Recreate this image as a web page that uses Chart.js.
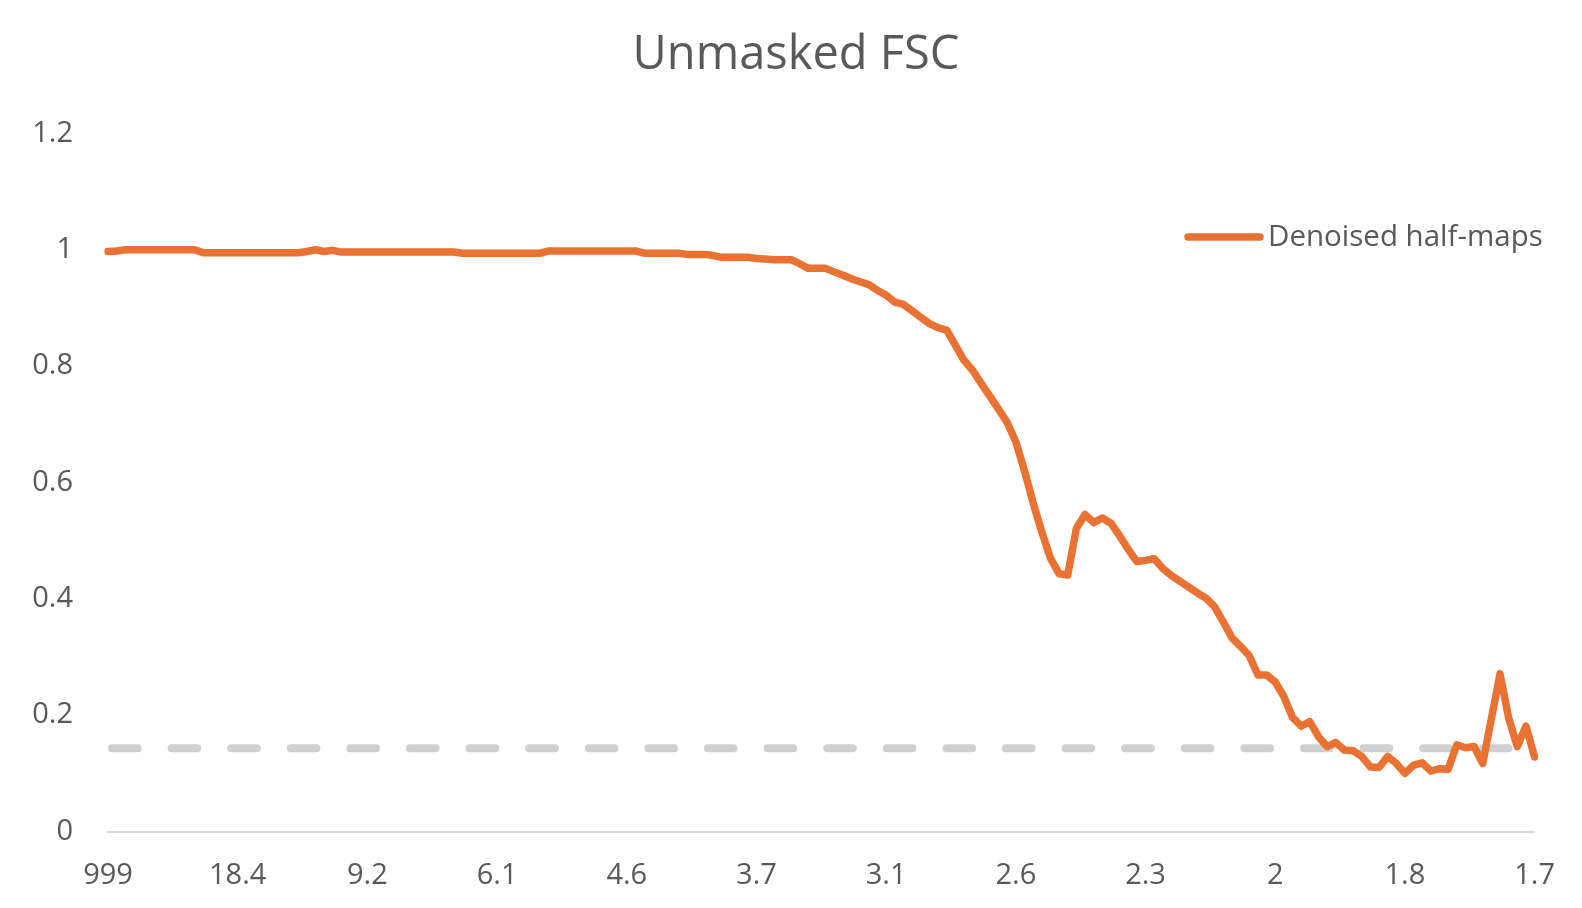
<!DOCTYPE html>
<html>
<head>
<meta charset="utf-8">
<title>Unmasked FSC</title>
<script src="https://cdn.jsdelivr.net/npm/chart.js@4.4.1/dist/chart.umd.min.js"></script>
<style>
  body { margin: 0; background: #fff; }
  #wrap { width: 1582px; height: 908px; }
</style>
</head>
<body>
<div id="wrap"><canvas id="fsc-chart"></canvas></div>
<script>
// tick labels (resolution, A) shown every 15th shell
const tickLabels = ["999", "18.4", "9.2", "6.1", "4.6", "3.7", "3.1", "2.6", "2.3", "2", "1.8", "1.7"];
const labelEvery = 15;

// FSC of the denoised half-maps, one value per shell
const fsc = [
  0.997, 0.998, 1, 1, 1, 1, 1, 1, 1, 1,
  1, 0.995, 0.995, 0.995, 0.995, 0.995, 0.995, 0.995, 0.995, 0.995,
  0.995, 0.995, 0.995, 0.997, 1, 0.997, 0.999, 0.996, 0.996, 0.996,
  0.996, 0.996, 0.996, 0.996, 0.996, 0.996, 0.996, 0.996, 0.996, 0.996,
  0.996, 0.994, 0.994, 0.994, 0.994, 0.994, 0.994, 0.994, 0.994, 0.994,
  0.994, 0.998, 0.998, 0.998, 0.998, 0.998, 0.998, 0.998, 0.998, 0.998,
  0.998, 0.998, 0.994, 0.994, 0.994, 0.994, 0.994, 0.992, 0.992, 0.992,
  0.99, 0.987, 0.987, 0.987, 0.987, 0.985, 0.984, 0.983, 0.983, 0.983,
  0.976, 0.968, 0.968, 0.968, 0.962, 0.956, 0.95, 0.945, 0.94, 0.93,
  0.922, 0.91, 0.906, 0.895, 0.884, 0.873, 0.866, 0.862, 0.836, 0.81,
  0.793, 0.77, 0.748, 0.726, 0.703, 0.67, 0.62, 0.565, 0.515, 0.47,
  0.443, 0.441, 0.521, 0.545, 0.531, 0.539, 0.53, 0.508, 0.485, 0.464,
  0.466, 0.469, 0.452, 0.44, 0.43, 0.42, 0.41, 0.401, 0.386, 0.36,
  0.333, 0.318, 0.302, 0.269, 0.269, 0.257, 0.232, 0.196, 0.181, 0.189,
  0.163, 0.146, 0.153, 0.14, 0.139, 0.129, 0.111, 0.11, 0.129, 0.117,
  0.1, 0.114, 0.118, 0.104, 0.108, 0.107, 0.149, 0.144, 0.146, 0.117,
  0.194, 0.271, 0.195, 0.146, 0.181, 0.128
];

const threshold = 0.143;

const fontFamily = "'Open Sans', 'Liberation Sans', sans-serif";
const textColor = "#595959";
const orange = "#E97132";

const labels = fsc.map((_, i) => (i % labelEvery === 0 ? tickLabels[i / labelEvery] : ""));

// grey dashed 0.143 line, drawn under the curve
const thresholdLine = {
  id: "thresholdLine",
  beforeDatasetsDraw(chart) {
    const { ctx, scales } = chart;
    const py = scales.y.getPixelForValue(threshold);
    ctx.save();
    ctx.strokeStyle = "#D0D0D0";
    ctx.lineWidth = 8;
    ctx.lineCap = "round";
    ctx.setLineDash([25.6, 34]);
    ctx.lineDashOffset = -4;
    ctx.beginPath();
    ctx.moveTo(scales.x.getPixelForValue(0), py);
    ctx.lineTo(scales.x.getPixelForValue(fsc.length - 1), py);
    ctx.stroke();
    ctx.restore();
  },
};

// legend sitting inside the plot, top right
const insideLegend = {
  id: "insideLegend",
  afterDraw(chart) {
    const { ctx } = chart;
    const ds = chart.data.datasets[0];
    const y = 237;
    ctx.save();
    ctx.strokeStyle = ds.borderColor;
    ctx.lineWidth = 7.5;
    ctx.lineCap = "round";
    ctx.beginPath();
    ctx.moveTo(1188, y);
    ctx.lineTo(1260, y);
    ctx.stroke();
    ctx.fillStyle = textColor;
    ctx.font = "29.5px " + fontFamily;
    ctx.textBaseline = "middle";
    ctx.textAlign = "left";
    ctx.fillText(ds.label, 1268, y + 1);
    ctx.restore();
  },
};

new Chart(document.getElementById("fsc-chart"), {
  type: "line",
  data: {
    labels: labels,
    datasets: [
      {
        label: "Denoised half-maps",
        data: fsc,
        borderColor: orange,
        backgroundColor: orange,
        borderWidth: 7.5,
        pointRadius: 0,
        tension: 0,
        borderJoinStyle: "round",
        borderCapStyle: "round",
      },
    ],
  },
  options: {
    responsive: true,
    maintainAspectRatio: false,
    animation: false,
    layout: { padding: { left: 10, right: 0, top: 0, bottom: 0 } },
    plugins: {
      legend: { display: false },
      tooltip: { enabled: false },
      title: {
        display: true,
        text: "Unmasked FSC",
        color: textColor,
        font: { family: fontFamily, size: 47, weight: "normal" },
        padding: { top: 27, bottom: 50 },
      },
    },
    scales: {
      x: {
        grid: { display: false, drawTicks: false },
        border: { display: true, color: "#D9D9D9", width: 2 },
        ticks: {
          autoSkip: false,
          maxRotation: 0,
          padding: 27,
          color: textColor,
          font: { family: fontFamily, size: 29 },
        },
        afterFit(scale) {
          scale.height = 76.5;
        },
      },
      y: {
        min: 0,
        max: 1.2,
        grid: { display: false, drawTicks: false },
        border: { display: false },
        ticks: {
          stepSize: 0.2,
          padding: 35,
          color: textColor,
          font: { family: fontFamily, size: 29 },
          callback: (v) => String(+v.toFixed(1)),
        },
        afterFit(scale) {
          scale.width = 98;
        },
      },
      // empty right-hand margin, keeps the plot clear of the canvas edge
      margin: {
        position: "right",
        grid: { display: false },
        border: { display: false },
        ticks: { display: false },
        afterFit(scale) {
          scale.width = 47;
        },
      },
    },
  },
  plugins: [thresholdLine, insideLegend],
});
</script>
</body>
</html>
